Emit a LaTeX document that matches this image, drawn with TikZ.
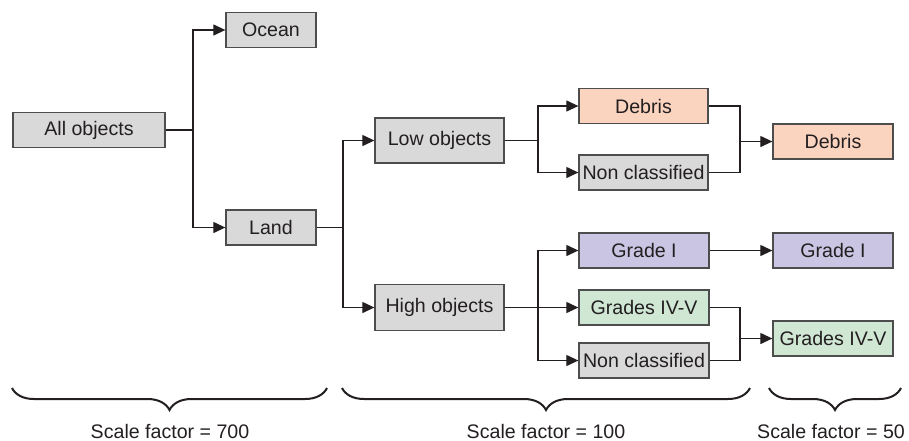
\documentclass[tikz,border=0pt]{standalone}
\usepackage{fontspec}
\setmainfont{Liberation Sans}
\usepackage{xcolor}
\definecolor{ink}{HTML}{231F20}
\definecolor{edge}{HTML}{4D4D4D}
\definecolor{grayc}{HTML}{D9D9D9}
\definecolor{debrisc}{HTML}{FBD4C0}
\definecolor{gradec}{HTML}{C9C5E2}
\definecolor{greenc}{HTML}{D0E7D4}
\usetikzlibrary{arrows.meta,decorations.pathreplacing}

\begin{document}
\begin{tikzpicture}[x=0.5pt,y=-0.5pt,every node/.style={font=\fontsize{9.8}{11.8}\selectfont,text=ink}]
\tikzstyle{box}=[draw=edge,line width=0.65pt,fill=grayc,inner sep=0pt,minimum width=64.5pt,minimum height=17.5pt,align=center]
\tikzstyle{arr}=[-{Triangle[length=6pt,width=5.5pt]},ink,line width=0.6pt]
\tikzstyle{link}=[ink,line width=0.6pt]
\tikzstyle{brc}=[decorate,decoration={brace,mirror,amplitude=11pt},ink,line width=1pt]
\useasboundingbox (0,0) rectangle (909,440);
% boxes
\node[box,minimum width=76pt] (all) at (89,130) {All objects};
\node[box,minimum width=45pt] (ocean) at (271,30) {Ocean};
\node[box,minimum width=45pt] (land) at (271,227.5) {Land};
\node[box,minimum height=22.5pt] (low) at (439.5,140.5) {Low objects};
\node[box,minimum height=23pt] (high) at (439.5,307.5) {High objects};
\node[box,fill=debrisc] (debris) at (643.5,106) {Debris};
\node[box] (ncl) at (643.5,172.5) {Non classified};
\node[box,minimum width=65pt,fill=gradec] (gradeI) at (644,250.5) {Grade I};
\node[box,minimum width=65pt,fill=greenc] (gradeIV) at (644,307.5) {Grades IV-V};
\node[box,minimum width=65pt] (nch) at (644,360.5) {Non classified};
\node[box,minimum width=60pt,fill=debrisc] (debrisout) at (833,141.5) {Debris};
\node[box,minimum width=60pt,fill=gradec] (gradeIout) at (833,250.5) {Grade I};
\node[box,minimum width=60pt,fill=greenc] (gradeIVout) at (833,338.5) {Grades IV-V};
% junctions
\coordinate (ja) at (193,130);
\coordinate (jb) at (343,227.5);
\coordinate (jc) at (538,140.5);
\coordinate (jd) at (538,307.5);
\coordinate (je) at (740,141.5);
\coordinate (jf) at (740,338.5);
% connectors
\draw[link] (all.east)--(ja);
\draw[arr] (ja)|-(ocean.west);
\draw[arr] (ja)|-(land.west);
\draw[link] (land.east)--(jb);
\draw[arr] (jb)|-(low.west);
\draw[arr] (jb)|-(high.west);
\draw[link] (low.east)--(jc);
\draw[arr] (jc)|-(debris.west);
\draw[arr] (jc)|-(ncl.west);
\draw[arr] (high.east)--(gradeIV.west);
\draw[arr] (jd)|-(gradeI.west);
\draw[arr] (jd)|-(nch.west);
\draw[link] (debris.east)-|(je)|-(ncl.east);
\draw[arr] (je)--(debrisout.west);
\draw[arr] (gradeI.east)--(gradeIout.west);
\draw[link] (gradeIV.east)-|(jf)|-(nch.east);
\draw[arr] (jf)--(gradeIVout.west);
% scale braces
\draw[brc] (12,388)--(327,388);
\draw[brc] (342,388)--(750,388);
\draw[brc] (769,388)--(901,388);
\node (sa) at (170,431) {Scale factor = 700};
\node (sb) at (546,431) {Scale factor = 100};
\node (sc) at (831,431) {Scale factor = 50};
\end{tikzpicture}
\end{document}
